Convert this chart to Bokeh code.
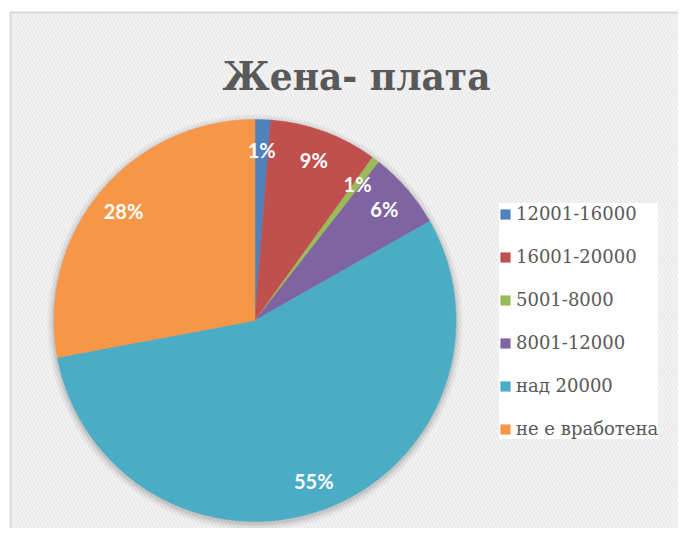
import math
from bokeh.plotting import figure
from bokeh.models import ColumnDataSource, Range1d, Legend, LegendItem, Label
from bokeh.core.properties import value
from bokeh.embed import file_html
from bokeh.resources import INLINE

# ---- data ----
categories = ["12001-16000", "16001-20000", "5001-8000", "8001-12000", "над 20000", "не е вработена"]
counts = [2, 14, 1, 10, 89, 45]
colors = ["#4F81BD", "#C0504D", "#9BBB59", "#8064A2", "#4BACC6", "#F79646"]
title_text = "Жена- плата"

W, H = 678, 528
total = sum(counts)
fracs = [c / total for c in counts]
cum = [0.0]
for f in fracs:
    cum.append(cum[-1] + f)

cx, cy, r = 254.5, H - 320.0, 201.0
starts = [math.pi / 2 - 2 * math.pi * cum[i] for i in range(len(counts))]
ends = [math.pi / 2 - 2 * math.pi * cum[i + 1] for i in range(len(counts))]
mids = [2 * math.pi * (cum[i] + cum[i + 1]) / 2 for i in range(len(counts))]
lr = 0.85 * r
lx = [cx + lr * math.sin(m) for m in mids]
ly = [cy + lr * math.cos(m) for m in mids]
labels = ["%d%%" % round(f * 100) for f in fracs]

src = ColumnDataSource(dict(cat=categories, start=starts, end=ends, color=colors,
                            lx=lx, ly=ly, lab=labels))

p = figure(width=W, height=H, output_backend="svg", toolbar_location=None,
           x_range=Range1d(0, W), y_range=Range1d(0, H), min_border=0,
           x_axis_location=None, y_axis_location=None, tools="")
p.grid.grid_line_color = None
p.outline_line_color = None
p.background_fill_color = "white"
p.border_fill_color = "white"

# chart area with striped texture and border
p.quad(left=10, right=W + 30, bottom=-30, top=H - 12, fill_color="#fbfbfb",
       hatch_pattern="\\", hatch_color="#ebebeb", hatch_weight=2.5, hatch_scale=7,
       line_color="#d9d9d9", line_width=2)

# soft shadow
for k, a in [(7, 0.03), (5, 0.04), (3, 0.05), (1.5, 0.06)]:
    p.circle(x=cx, y=cy - 2, radius=r + k, fill_color="black", fill_alpha=a, line_color=None)

w = p.wedge(x=cx, y=cy, radius=r, start_angle="start", end_angle="end", direction="clock",
            fill_color="color", line_color="color", line_width=0.5, source=src)

p.text(x="lx", y="ly", text="lab", source=src, text_color="white",
       text_font=value("Lato"), text_font_style="bold", text_font_size="20px",
       text_align="center", text_baseline="middle")

p.add_layout(Label(x=356, y=H - 75, text=title_text, text_font="DejaVu Serif Condensed",
                   text_font_style="bold", text_font_size="40px", text_color="#595959",
                   text_align="center", text_baseline="alphabetic"))

items = [LegendItem(label=categories[i], renderers=[w], index=i) for i in range(len(categories))]
legend = Legend(items=items, location=(499, 89), orientation="vertical",
                label_text_font="DejaVu Serif", label_text_font_size="18px",
                label_text_color="#595959", glyph_width=12, glyph_height=12,
                label_height=20, label_standoff=5, spacing=22, padding=12, margin=0,
                background_fill_color="white", background_fill_alpha=1.0,
                border_line_color=None)
p.add_layout(legend, "center")

open("out.html", "w").write(file_html(p, INLINE))
